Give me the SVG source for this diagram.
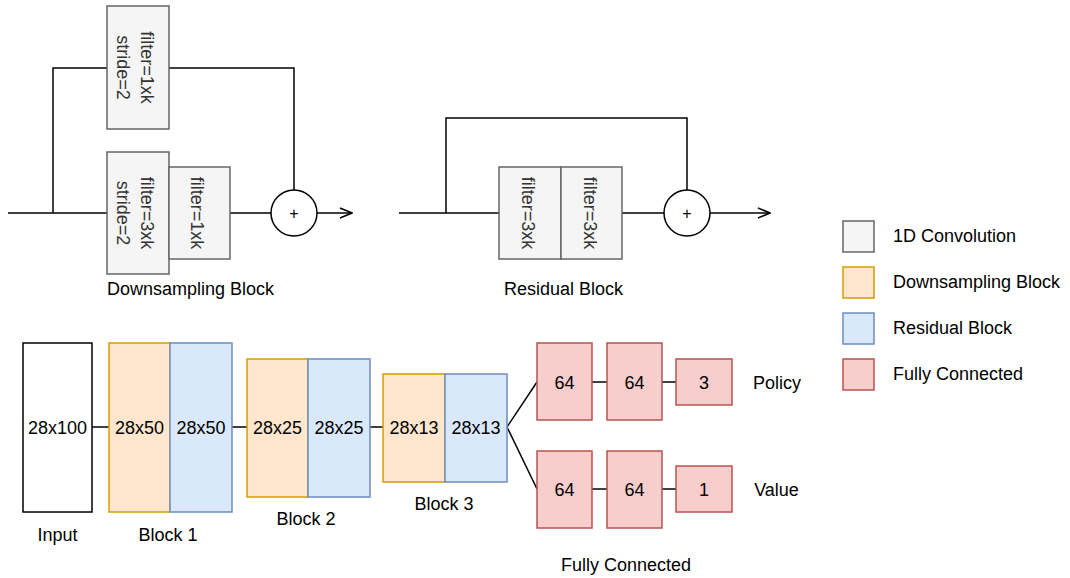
<svg xmlns="http://www.w3.org/2000/svg" width="1070" height="578" viewBox="0 0 1070 578">
  <style>
    text { font-family: "Liberation Sans", Arial, Helvetica, sans-serif; font-size: 18px; fill: #000; }
    .mid { text-anchor: middle; }
    .conv rect { fill: #f5f5f5; stroke: #666666; stroke-width: 1.5; }
    .conv text { fill: #333333; text-anchor: middle; }
    .down { fill: #ffe6cc; stroke: #d79b00; stroke-width: 1.5; }
    .res { fill: #dae8fc; stroke: #6c8ebf; stroke-width: 1.5; }
    .fc { fill: #f8cecc; stroke: #b85450; stroke-width: 1.5; }
    .plain { fill: #ffffff; stroke: #000000; stroke-width: 1.5; }
    .wire { fill: none; stroke: #000; stroke-width: 1.5; }
    .sum circle { fill: #fff; stroke: #000; stroke-width: 1.5; }
    .sum text { font-size: 16px; text-anchor: middle; fill: #000; }
  </style>
  <defs>
    <marker id="open" viewBox="0 0 14 12" refX="13" refY="6" markerWidth="14" markerHeight="12" markerUnits="userSpaceOnUse" orient="auto">
      <path d="M1,1 L13,6 L1,11" fill="none" stroke="#000" stroke-width="1.5"/>
    </marker>
  </defs>

  <!-- connectors -->
  <g id="connectors" class="wire">
    <!-- downsampling block wiring -->
    <path d="M8,213 H107"/>
    <path d="M53,213 V68 H107"/>
    <path d="M169,68 H294 V190"/>
    <path d="M230,213 H271"/>
    <path d="M317,213 H352" marker-end="url(#open)"/>
    <!-- residual block wiring -->
    <path d="M399,213 H499"/>
    <path d="M446,213 V118 H687 V190"/>
    <path d="M622,213 H664"/>
    <path d="M710,213 H770" marker-end="url(#open)"/>
    <!-- network pipeline -->
    <path d="M92,427 H109"/>
    <path d="M232,427 H247"/>
    <path d="M370,427 H383"/>
    <path d="M507,427 L537,382"/>
    <path d="M507,427 L537,489"/>
    <path d="M592,382 H607"/>
    <path d="M662,382 H676"/>
    <path d="M592,489 H607"/>
    <path d="M662,489 H676"/>
  </g>

  <!-- downsampling block -->
  <g id="ds-shortcut" class="conv">
    <rect x="107" y="6" width="62" height="123"/>
    <text transform="translate(138,67.5) rotate(90)"><tspan x="0" y="-2.7">filter=1xk</tspan><tspan x="0" y="20.7">stride=2</tspan></text>
  </g>
  <g id="ds-conv1" class="conv">
    <rect x="107" y="152" width="62" height="122"/>
    <text transform="translate(138,213) rotate(90)"><tspan x="0" y="-2.7">filter=3xk</tspan><tspan x="0" y="20.7">stride=2</tspan></text>
  </g>
  <g id="ds-conv2" class="conv">
    <rect x="169" y="167" width="61" height="92"/>
    <text transform="translate(199.5,213) rotate(90)" y="8.5">filter=1xk</text>
  </g>
  <g id="ds-sum" class="sum">
    <circle cx="294" cy="213" r="23"/>
    <text x="294" y="218.5">+</text>
  </g>
  <text id="ds-label" class="mid" x="190.5" y="295">Downsampling Block</text>

  <!-- residual block -->
  <g id="res-conv1" class="conv">
    <rect x="499" y="167" width="62" height="92"/>
    <text transform="translate(530,213) rotate(90)" y="7.7">filter=3xk</text>
  </g>
  <g id="res-conv2" class="conv">
    <rect x="561" y="167" width="61" height="92"/>
    <text transform="translate(591.8,213) rotate(90)" y="7.7">filter=3xk</text>
  </g>
  <g id="res-sum" class="sum">
    <circle cx="687" cy="213" r="23"/>
    <text x="687" y="218.5">+</text>
  </g>
  <text id="res-label" class="mid" x="563.5" y="295">Residual Block</text>

  <!-- legend -->
  <g id="legend-conv">
    <rect x="843" y="221" width="31" height="31" fill="#f5f5f5" stroke="#666666" stroke-width="1.5"/>
    <text x="893" y="242">1D Convolution</text>
  </g>
  <g id="legend-down">
    <rect class="down" x="843" y="267" width="31" height="31"/>
    <text x="893" y="288">Downsampling Block</text>
  </g>
  <g id="legend-res">
    <rect class="res" x="843" y="313" width="31" height="31"/>
    <text x="893" y="334">Residual Block</text>
  </g>
  <g id="legend-fc">
    <rect class="fc" x="843" y="359" width="31" height="31"/>
    <text x="893" y="380">Fully Connected</text>
  </g>

  <!-- input -->
  <g id="input">
    <rect class="plain" x="23" y="343" width="69" height="169"/>
    <text class="mid" x="57.5" y="433.5">28x100</text>
    <text class="mid" x="57.5" y="541">Input</text>
  </g>

  <!-- block 1 -->
  <g id="block1">
    <rect class="down" x="109" y="343" width="61" height="169"/>
    <rect class="res" x="170" y="343" width="62" height="169"/>
    <text class="mid" x="139.5" y="433.5">28x50</text>
    <text class="mid" x="201" y="433.5">28x50</text>
    <text class="mid" x="168" y="541">Block 1</text>
  </g>

  <!-- block 2 -->
  <g id="block2">
    <rect class="down" x="247" y="359" width="61" height="138"/>
    <rect class="res" x="308" y="359" width="62" height="138"/>
    <text class="mid" x="277.5" y="433.5">28x25</text>
    <text class="mid" x="339" y="433.5">28x25</text>
    <text class="mid" x="306" y="525">Block 2</text>
  </g>

  <!-- block 3 -->
  <g id="block3">
    <rect class="down" x="383" y="374" width="62" height="108"/>
    <rect class="res" x="445" y="374" width="62" height="108"/>
    <text class="mid" x="414" y="433.5">28x13</text>
    <text class="mid" x="476" y="433.5">28x13</text>
    <text class="mid" x="444" y="510">Block 3</text>
  </g>

  <!-- policy head -->
  <g id="policy-fc1">
    <rect class="fc" x="537" y="343" width="55" height="77"/>
    <text class="mid" x="564.5" y="388.5">64</text>
  </g>
  <g id="policy-fc2">
    <rect class="fc" x="607" y="343" width="55" height="77"/>
    <text class="mid" x="634.5" y="388.5">64</text>
  </g>
  <g id="policy-out">
    <rect class="fc" x="676" y="359" width="56" height="46"/>
    <text class="mid" x="704" y="388.5">3</text>
  </g>
  <text id="policy-label" class="mid" x="777" y="388.5">Policy</text>

  <!-- value head -->
  <g id="value-fc1">
    <rect class="fc" x="537" y="451" width="55" height="77"/>
    <text class="mid" x="564.5" y="495.5">64</text>
  </g>
  <g id="value-fc2">
    <rect class="fc" x="607" y="451" width="55" height="77"/>
    <text class="mid" x="634.5" y="495.5">64</text>
  </g>
  <g id="value-out">
    <rect class="fc" x="676" y="466" width="56" height="46"/>
    <text class="mid" x="704" y="495.5">1</text>
  </g>
  <text id="value-label" class="mid" x="776.5" y="495.5">Value</text>

  <text id="fc-label" class="mid" x="626" y="571">Fully Connected</text>
</svg>
